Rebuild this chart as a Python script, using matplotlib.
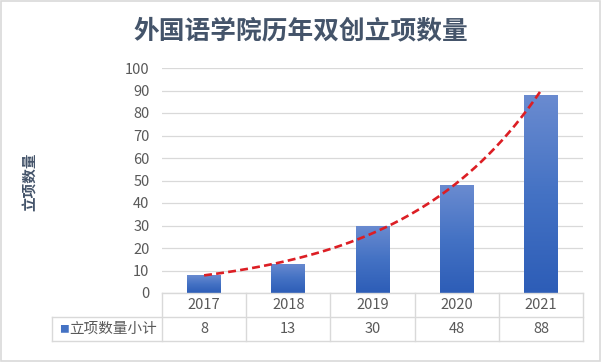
import numpy as np
import matplotlib.pyplot as plt
from matplotlib.colors import LinearSegmentedColormap
from matplotlib.patches import Rectangle
from matplotlib.transforms import blended_transform_factory

plt.rcParams["font.family"] = ["Noto Sans CJK SC", "DejaVu Sans"]

# data
years = ["2017", "2018", "2019", "2020", "2021"]
counts = [8, 13, 30, 48, 88]
title = "外国语学院历年双创立项数量"
ylabel = "立项数量"
series_name = "立项数量小计"

grey_txt = "#595959"
grid_col = "#D9D9D9"
title_col = "#44546A"

fig = plt.figure(figsize=(6.02, 3.62), dpi=100)
ax = fig.add_axes([162 / 602, 1 - 293 / 362, 421 / 602, 225 / 362])

x = np.arange(len(years))
bars = ax.bar(x, counts, width=0.4, color="none", edgecolor="none", zorder=2)

# vertical gradient inside each bar
cmap = LinearSegmentedColormap.from_list("bar", ["#2D5DB7", "#4472C4", "#6A8BD0"])
grad = np.linspace(0, 1, 256).reshape(-1, 1)
for b in bars:
    x0, y0 = b.get_x(), b.get_y()
    im = ax.imshow(
        grad,
        cmap=cmap,
        origin="lower",
        aspect="auto",
        extent=(x0, x0 + b.get_width(), y0, y0 + b.get_height()),
        zorder=2,
    )
    im.set_clip_path(b)

# exponential trend line (least squares on log values, as Excel does)
coef = np.polyfit(x + 1, np.log(counts), 1)
xt = np.linspace(x[0], x[-1], 200)
ax.plot(
    xt,
    np.exp(np.polyval(coef, xt + 1)),
    color="#DC1E24",
    linestyle=(0, (3, 1.6)),
    linewidth=1.9,
    zorder=3,
)

ax.set_xlim(-0.5, len(years) - 0.5)
ax.set_ylim(0, 100)
ax.set_yticks(np.arange(0, 101, 10))
ax.set_xticks([])
ax.tick_params(axis="y", length=0, pad=9, labelsize=10.5, labelcolor=grey_txt)
ax.yaxis.grid(True, color=grid_col, linewidth=0.9)
ax.set_axisbelow(True)
for s in ax.spines.values():
    s.set_visible(False)

# data table below the plot
tr = blended_transform_factory(ax.transData, ax.transAxes)
rh = 24 / 225
lab_left = -0.5 - 110 / (421 / len(years))
lkw = dict(color=grid_col, linewidth=1.0, transform=tr, clip_on=False)
ax.plot([-0.5, len(years) - 0.5], [0, 0], **lkw)
ax.plot([lab_left, len(years) - 0.5], [-rh, -rh], **lkw)
ax.plot([lab_left, len(years) - 0.5], [-2 * rh, -2 * rh], **lkw)
ax.plot([lab_left, lab_left], [-rh, -2 * rh], **lkw)
for i in range(len(years) + 1):
    ax.plot([i - 0.5, i - 0.5], [0, -2 * rh], **lkw)
for i, (yr, c) in enumerate(zip(years, counts)):
    ax.text(i, -rh / 2, yr, transform=tr, ha="center", va="center",
            fontsize=10.5, color=grey_txt)
    ax.text(i, -1.5 * rh, str(c), transform=tr, ha="center", va="center",
            fontsize=10.5, color=grey_txt)
ax.text(lab_left + 0.08, -1.5 * rh, "■", transform=tr, ha="left", va="center",
        fontsize=7, color="#4472C4")
ax.text(lab_left + 0.2, -1.5 * rh, series_name, transform=tr, ha="left",
        va="center", fontsize=10.5, color=grey_txt)

fig.text(0.5, 1 - 31 / 362, title, ha="center", va="center", fontsize=18.5,
         fontweight="bold", color=title_col)
fig.text(30 / 602, 1 - 182 / 362, ylabel, ha="center", va="center",
         rotation=90, fontsize=10.5, fontweight="bold", color=title_col)

fig.add_artist(Rectangle((0.002, 0.003), 0.994, 0.994, transform=fig.transFigure,
                         fill=False, edgecolor=grid_col, linewidth=1.2))

fig.savefig("out.png", dpi=100)
